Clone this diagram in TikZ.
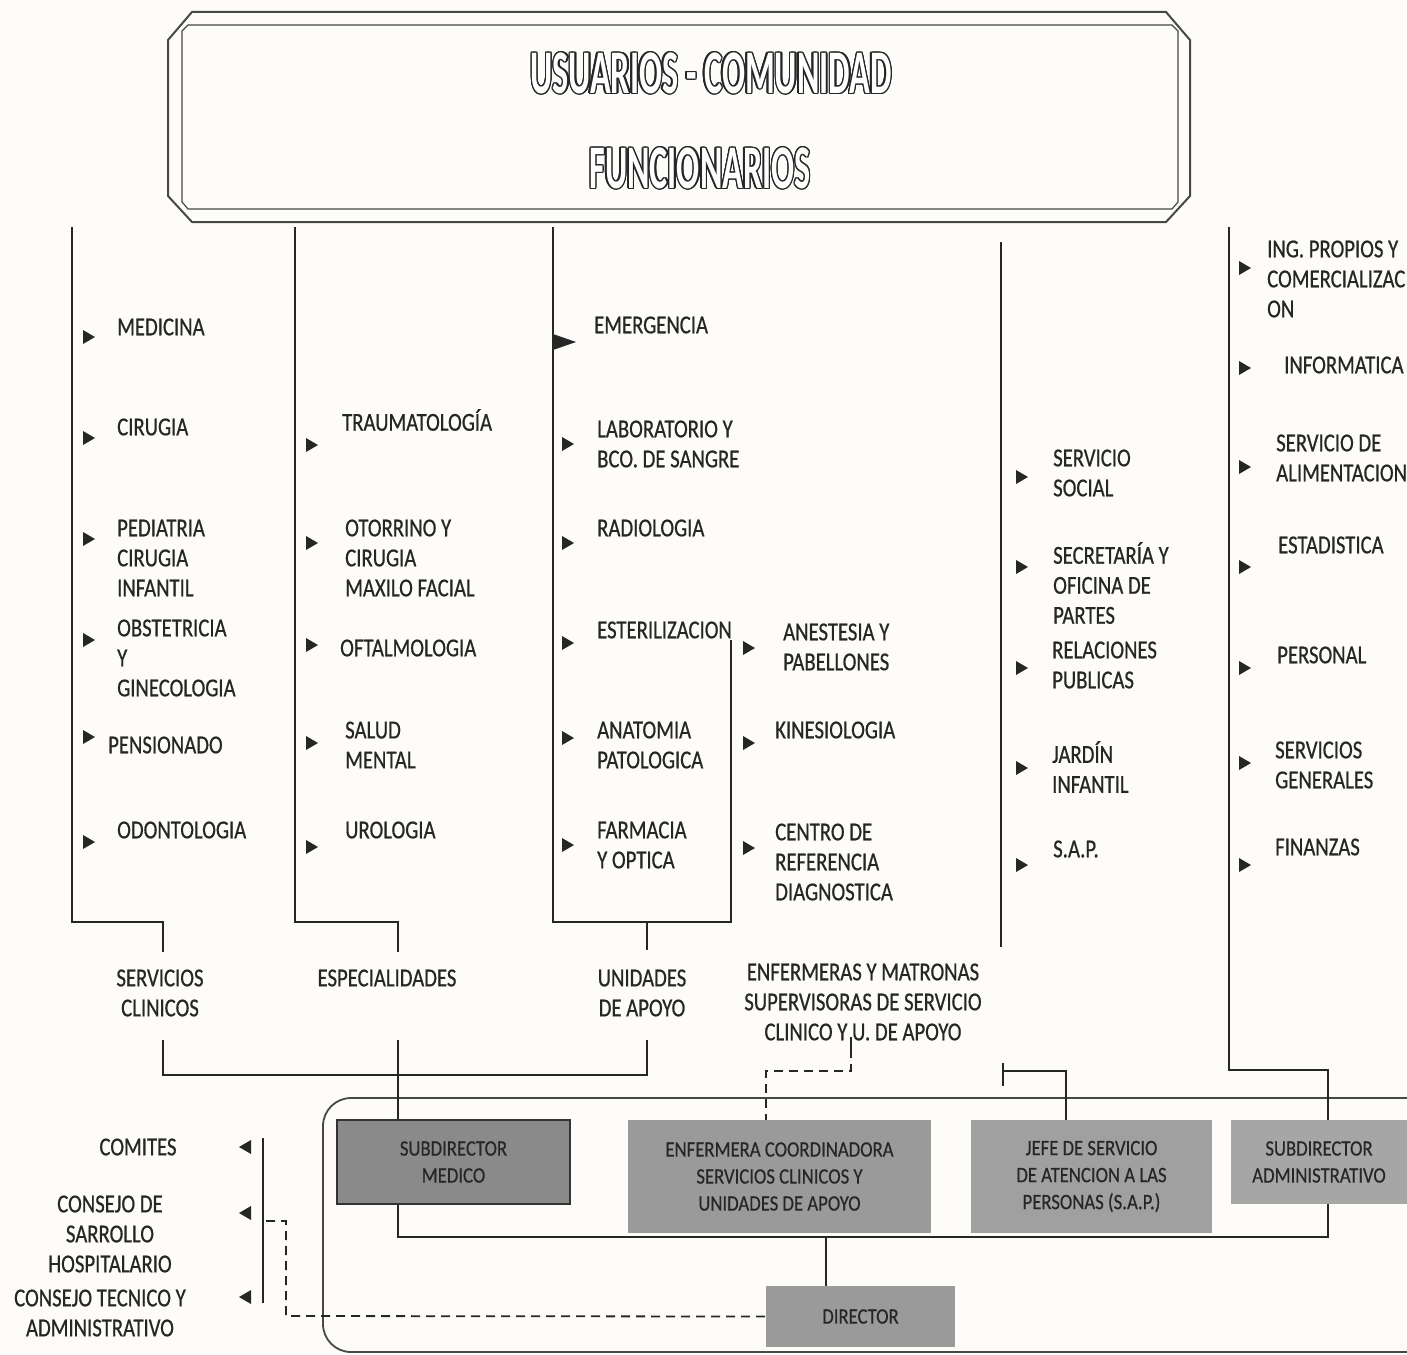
\documentclass[tikz,border=0pt]{standalone}
\usepackage{fontspec}
\usepackage{contour}
\newfontfamily\bodyfont[FakeStretch=0.8,FakeBold=0.6]{Carlito}
\newfontfamily\boxfontfam[FakeStretch=0.85,FakeBold=0.4]{Carlito}
\newfontfamily\titlefontfam[FakeStretch=0.55]{Carlito}
\definecolor{ink}{HTML}{262626}
\definecolor{paper}{HTML}{FDFCF9}
\definecolor{boxA}{HTML}{8A8A8A}
\definecolor{boxB}{HTML}{9A9A9A}
\definecolor{boxC}{HTML}{A0A0A0}
\definecolor{boxD}{HTML}{A6A6A6}
\contourlength{1.4pt}
\tikzset{
  lbl/.style={font=\bodyfont\fontsize{25.9}{30}\selectfont, text=ink, inner sep=0pt, align=left, anchor=west},
  lblc/.style={lbl, align=center, anchor=center},
  gbox/.style={fill=#1, inner sep=0pt, font=\boxfontfam\fontsize{22}{27}\selectfont, text=ink, align=center},
  ln/.style={draw=ink, line width=2.4pt},
  dsh/.style={draw=ink, line width=1.8pt, dash pattern=on 9pt off 6pt},
  frame/.style={draw=ink!85, line width=1.6pt},
  tri/.pic={\fill[ink] (-5,-7) -- (7,0) -- (-5,7) -- cycle;},
  trileft/.pic={\fill[ink] (5,-7) -- (-7,0) -- (5,7) -- cycle;},
  ttl/.style={font=\titlefontfam\bfseries\fontsize{62}{70}\selectfont, text=white, inner sep=0pt},
}
\begin{document}
\begin{tikzpicture}[x=1pt,y=-1pt]
\useasboundingbox (0,0) rectangle (1407,1354);
\fill[paper] (0,0) rectangle (1407,1354);
\begin{scope}
\clip (0,0) rectangle (1407,1354);

% ---------- top box ----------
\draw[frame, line width=2pt] (192,12) -- (1166,12) -- (1190,40) -- (1190,196) -- (1166,222) -- (192,222) -- (168,196) -- (168,40) -- cycle;
\draw[frame, line width=1.2pt] (188,25) -- (1172,25) -- (1178,31) -- (1178,202) -- (1172,209) -- (188,209) -- (182,202) -- (182,31) -- cycle;
\node[ttl] (t1) at (711,74) {\contour{ink}{USUARIOS - COMUNIDAD}};
\node[ttl] (t2) at (700,169) {\contour{ink}{FUNCIONARIOS}};

% ---------- column 1: servicios clinicos ----------
\coordinate (c1top) at (72,227);
\coordinate (c1bot) at (72,922);
\coordinate (c1drop) at (163,922);
\draw[ln] (c1top) -- (c1bot) -- (c1drop) -- (163,952);
\node[lbl] (medicina) at (117,327) {MEDICINA};
\node[lbl] (cirugia) at (117,427) {CIRUGIA};
\node[lbl] (pediatria) at (117,558) {PEDIATRIA\\CIRUGIA\\INFANTIL};
\node[lbl] (obstetricia) at (117,658) {OBSTETRICIA\\Y\\GINECOLOGIA};
\node[lbl] (pensionado) at (108,745) {PENSIONADO};
\node[lbl] (odonto) at (117,830) {ODONTOLOGIA};
\foreach \yy in {337,438,539,640,737,842} \pic at (88,\yy) {tri};
\node[lblc] (servclin) at (160,993) {SERVICIOS\\CLINICOS};

% ---------- column 2: especialidades ----------
\coordinate (c2top) at (295,227);
\coordinate (c2bot) at (295,922);
\draw[ln] (c2top) -- (c2bot) -- (398,922) -- (398,952);
\node[lbl] (trauma) at (342,420) {TRAUMATOLOGÍA};
\node[lbl] (otorrino) at (345,558) {OTORRINO Y\\CIRUGIA\\MAXILO FACIAL};
\node[lbl] (oftalmo) at (340,648) {OFTALMOLOGIA};
\node[lbl] (salud) at (345,745) {SALUD\\MENTAL};
\node[lbl] (urologia) at (345,830) {UROLOGIA};
\foreach \yy in {445,543,645,743,847} \pic at (311,\yy) {tri};
\node[lblc] (espec) at (387,978) {ESPECIALIDADES};

% ---------- column 3: unidades de apoyo ----------
\coordinate (c3top) at (553,227);
\coordinate (c3bot) at (553,922);
\draw[ln] (c3top) -- (c3bot) -- (731,922) -- (731,640);
\draw[ln] (647,922) -- (647,950);
\fill[ink] (553,334) -- (576,342) -- (553,350) -- cycle;
\node[lbl] (emerg) at (594,325) {EMERGENCIA};
\node[lbl] (lab) at (597,444) {LABORATORIO Y\\BCO. DE SANGRE};
\node[lbl] (radio) at (597,528) {RADIOLOGIA};
\node[lbl] (ester) at (597,630) {ESTERILIZACION};
\node[lbl] (anato) at (597,745) {ANATOMIA\\PATOLOGICA};
\node[lbl] (farma) at (597,845) {FARMACIA\\Y OPTICA};
\foreach \yy in {444,543,643,738,845} \pic at (567,\yy) {tri};
\node[lbl] (anest) at (783,647) {ANESTESIA Y\\PABELLONES};
\node[lbl] (kine) at (775,730) {KINESIOLOGIA};
\node[lbl] (centro) at (775,862) {CENTRO DE\\REFERENCIA\\DIAGNOSTICA};
\foreach \yy in {648,743,848} \pic at (748,\yy) {tri};
\node[lblc] (unid) at (642,993) {UNIDADES\\DE APOYO};

% ---------- enfermeras label ----------
\node[lblc] (enflbl) at (863,1002) {ENFERMERAS Y MATRONAS\\SUPERVISORAS DE SERVICIO\\CLINICO Y U. DE APOYO};

% ---------- column 4 ----------
\coordinate (c4top) at (1001,242);
\coordinate (c4bot) at (1001,947);
\draw[ln] (c4top) -- (c4bot);
\node[lbl] (social) at (1053,473) {SERVICIO\\SOCIAL};
\node[lbl] (secre) at (1053,583) {SECRETARÍA Y\\OFICINA DE\\PARTES};
\node[lbl] (relac) at (1052,665) {RELACIONES\\PUBLICAS};
\node[lbl] (jardin) at (1052,767) {JARDÍN\\INFANTIL};
\node[lbl] (sap) at (1053,849) {S.A.P.};
\foreach \yy in {477,567,668,768,865} \pic at (1021,\yy) {tri};

% ---------- column 5 ----------
\coordinate (c5top) at (1229,227);
\coordinate (c5bot) at (1229,1070);
\node[lbl] (ingp) at (1267,279) {ING. PROPIOS Y\\COMERCIALIZAC\\ON};
\node[lbl] (inform) at (1284,365) {INFORMATICA};
\node[lbl] (alim) at (1276,458) {SERVICIO DE\\ALIMENTACION};
\node[lbl] (estad) at (1278,545) {ESTADISTICA};
\node[lbl] (person) at (1277,655) {PERSONAL};
\node[lbl] (servgen) at (1275,765) {SERVICIOS\\GENERALES};
\node[lbl] (finan) at (1275,847) {FINANZAS};
\foreach \yy in {268,368,467,567,668,763,865} \pic at (1244,\yy) {tri};

% ---------- bottom frame and boxes ----------
\draw[frame, line width=1.8pt, rounded corners=28pt] (1440,1098) -- (323,1098) -- (323,1352) -- (1440,1352);

\node[gbox=boxA, draw=black!80, line width=2pt, minimum width=233pt, minimum height=84pt] (smed) at (453.5,1162) {SUBDIRECTOR\\MEDICO};
\node[gbox=boxB, minimum width=303pt, minimum height=113pt] (enf) at (779.5,1176.5) {ENFERMERA COORDINADORA\\SERVICIOS CLINICOS Y\\UNIDADES DE APOYO};
\node[gbox=boxC, minimum width=241pt, minimum height=113pt] (jefe) at (1091.5,1176.5) {JEFE DE SERVICIO\\DE ATENCION A LAS\\PERSONAS (S.A.P.)};
\node[gbox=boxD, minimum width=176pt, minimum height=84pt] (sadm) at (1319,1162) {SUBDIRECTOR\\ADMINISTRATIVO};
\node[gbox=boxB, minimum width=189pt, minimum height=61pt] (dir) at (860.5,1316.5) {DIRECTOR};

% connectors among groups
\draw[ln] (163,1040) -- (163,1075) -- (647,1075) -- (647,1040);
\draw[ln] (398,1040) -- (smed.north -| 398,0);
\draw[ln] (smed.south -| 398,0) -- (398,1237) -- (1328,1237) -- (sadm.south -| 1328,0);
\draw[ln] (c5top) -- (c5bot) -- (1328,1070) -- (sadm.north -| 1328,0);
\draw[ln] (826,1237) -- (dir.north -| 826,0);
\draw[ln] (1003,1063) -- (1003,1086);
\draw[ln] (1003,1071) -- (1066,1071) -- (jefe.north -| 1066,0);
\draw[ln, line width=1.6pt] (851,1037) -- (851,1049);
\draw[dsh] (851,1049) -- (851,1071) -- (766,1071) -- (enf.north -| 766,0);

% ---------- left: comites ----------
\node[lblc] (comites) at (138,1147) {COMITES};
\node[lblc] (consejo1) at (110,1234) {CONSEJO DE\\SARROLLO\\HOSPITALARIO};
\node[lblc] (consejo2) at (100,1313) {CONSEJO TECNICO Y\\ADMINISTRATIVO};
\draw[ln] (263,1138) -- (263,1303);
\foreach \yy in {1147,1213,1297} \pic at (246,\yy) {trileft};
\draw[dsh] (266,1221) -- (286,1221) -- (286,1316) -- (dir.west);

\end{scope}
\end{tikzpicture}
\end{document}
